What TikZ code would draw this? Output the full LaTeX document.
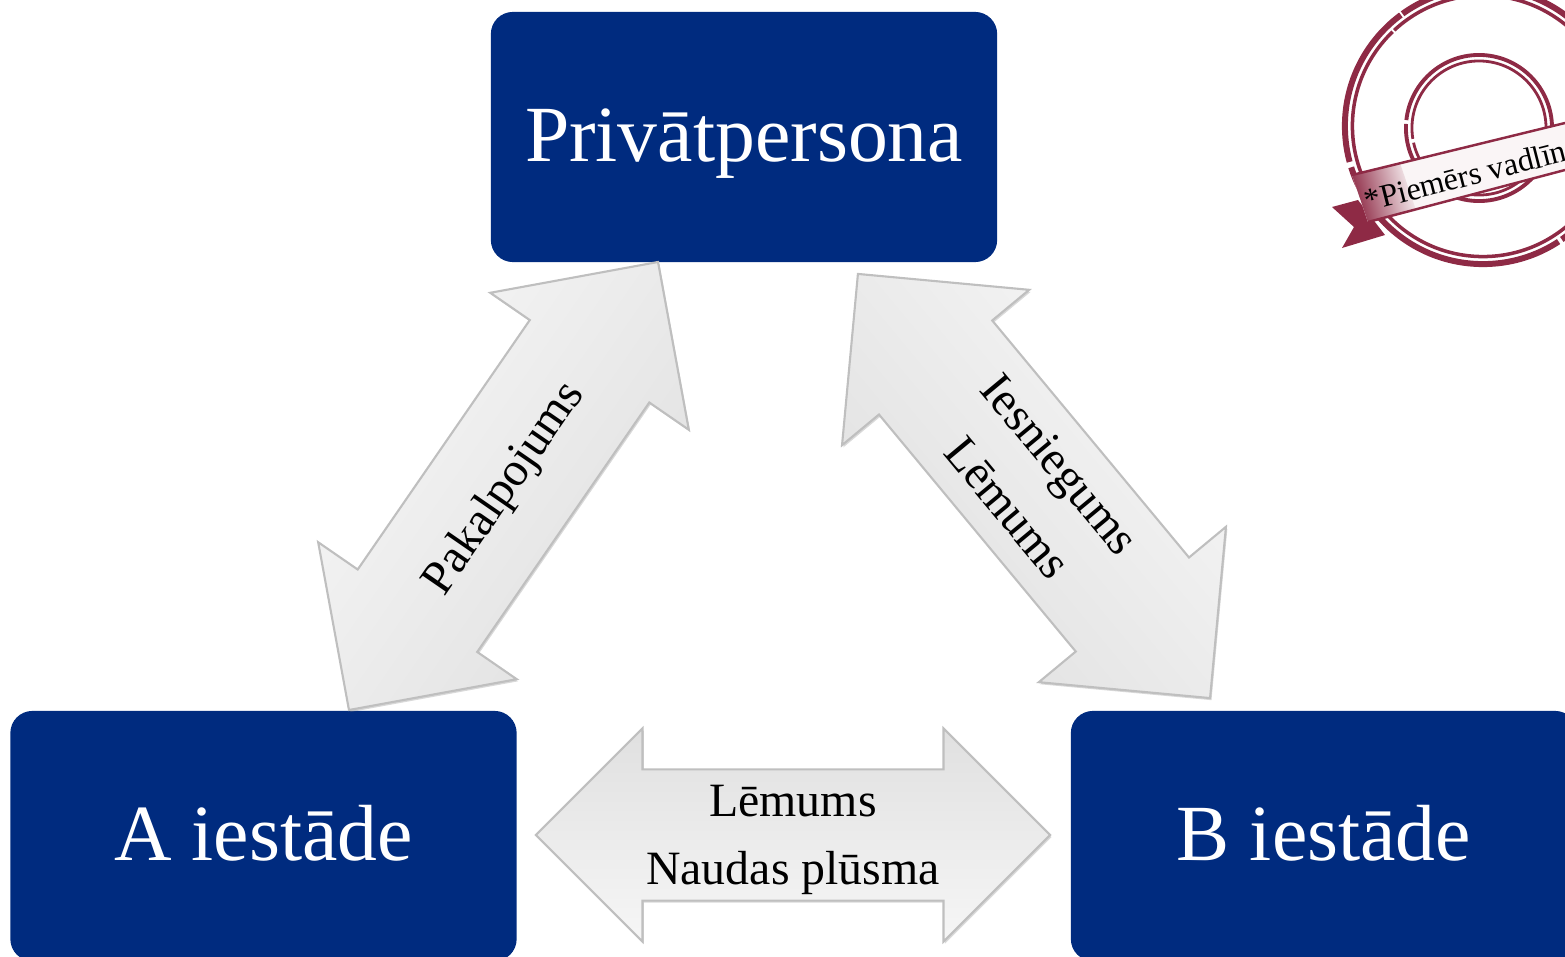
\documentclass[tikz,border=0pt]{standalone}
\usepackage{fontspec}
\setmainfont{Liberation Serif}
\usetikzlibrary{shapes.arrows,shadows}
\definecolor{boxblue}{HTML}{002B7F}
\definecolor{stampred}{HTML}{8E2A45}
\definecolor{ribbonpale}{HTML}{FAF5F6}
\definecolor{flowlight}{HTML}{F6F6F6}
\definecolor{flowdark}{HTML}{E0E0E0}
\tikzset{
    office/.style={rectangle,rounded corners=0.22cm,fill=boxblue,text=white,outer sep=0pt,
        minimum width=5.06cm,minimum height=2.5cm,text height=0.72cm,text depth=0.23cm,
        font=\fontsize{22.65}{27}\selectfont},
    flow/.style={double arrow,draw=black!25,line width=0.6pt,outer sep=0pt,inner xsep=0pt,
        double arrow head extend=0.48cm,double arrow tip angle=90,minimum width=2.39cm,
        drop shadow={shadow xshift=0.4pt,shadow yshift=-0.6pt,opacity=0.3}},
    flowtext/.style={align=center,inner sep=0pt,font=\fontsize{13.6}{19.35}\selectfont},
    ring/.style={draw=stampred,dash pattern=on 63pt off 1.1pt on 22pt off 0.6pt on 47pt off 1.6pt on 9pt off 0.5pt},
}
\begin{document}
\begin{tikzpicture}[x=0.01cm,y=-0.01cm]
    \useasboundingbox (0,0) rectangle (1565,957);
    % boxes
    \node[office] (P) at (744,137) {Privātpersona};
    \node[office] (A) at (263.5,836) {A iestāde};
    \node[office] (B) at (1324,836) {B iestāde};
    % arrows
    \node[flow,rotate=55.4,minimum height=5.44cm,inner ysep=0.715cm,top color=flowlight,bottom color=flowdark,shading angle=55.4] (PA) at (503.5,486) {};
    \node[flow,rotate=-50.3,minimum height=5.51cm,inner ysep=0.725cm,top color=flowlight,bottom color=flowdark,shading angle=-50.3] (PB) at (1034,486) {};
    \node[flow,minimum height=5.14cm,minimum width=2.12cm,inner ysep=0.645cm,double arrow head extend=0.41cm,top color=flowdark,bottom color=flowlight] (AB) at (793,835) {};
    % arrow texts
    \node[flowtext,rotate=55.4] (PAtext) at (505,489) {Pakalpojums};
    \node[flowtext,rotate=-50.3] (PBtext) at (1034,486) {Iesniegums\\Lēmums};
    \node[flowtext] (ABtext) at (793,840) {Lēmums\\Naudas plūsma};
    % stamp
    \draw[ring,line width=1.7pt] (1483,126) circle[radius=1.38cm];
    \draw[ring,line width=1pt] (1483,126) circle[radius=1.305cm];
    \draw[ring,line width=1.1pt] (1479,128) circle[radius=0.73cm];
    \draw[ring,line width=0.8pt] (1479,128) circle[radius=0.67cm];
    \fill[stampred] (1332,207) -- (1358,200) -- (1385,235) -- (1342,248) -- (1354,227) -- cycle;
    \fill[ribbonpale] (1352,175) -- (1565,123) -- (1565,170) -- (1368,222) -- cycle;
    \shade[left color=stampred,right color=ribbonpale,shading angle=104.3] (1352,175) -- (1400,163) -- (1416,210) -- (1368,222) -- cycle;
    \draw[stampred,line width=0.7pt] (1352,175) -- (1565,123);
    \draw[stampred,line width=0.7pt] (1368,222) -- (1565,170);
    \node[anchor=base west,rotate=14.3,inner sep=0pt,font=\fontsize{9.1}{10}\selectfont] (stamptext) at (1367,212) {*Piemērs vadlīn};
\end{tikzpicture}
\end{document}
